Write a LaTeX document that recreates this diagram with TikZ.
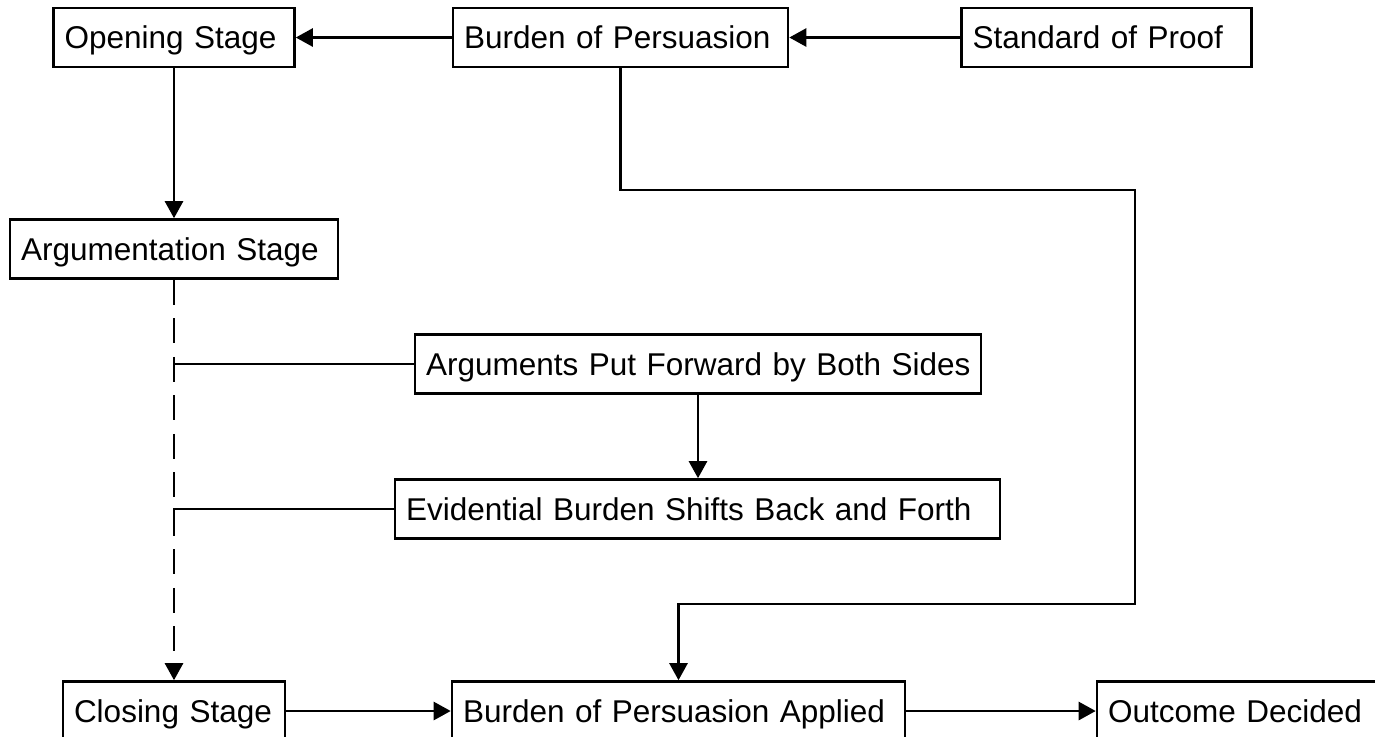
\documentclass[tikz,border=0pt]{standalone}
\usepackage{fontspec}
\setmainfont{Liberation Sans}
\usetikzlibrary{arrows.meta}
\begin{document}
\begin{tikzpicture}[x=0.5pt,y=-0.5pt,
  box/.style={draw, line width=1.3pt, rectangle, inner xsep=5.5pt, inner ysep=0pt,
    minimum height=29.5pt, align=left, font=\fontsize{15.75}{19}\selectfont,
    text height=11.3pt, text depth=0pt},
  link/.style={line width=1.3pt},
  arr/.style={link, -{Triangle[length=8.5pt,width=9pt]}},
  ]
\clip (0,0) rectangle (1375,736);

% top row
\node[box, text width=109.5pt] (open) at (174,37.5) {\mbox{Opening Stage}};
\node[box, text width=156.5pt] (bop)  at (620.5,37.5) {\mbox{Burden of Persuasion}};
\node[box, text width=134pt]   (sop)  at (1106.5,37.5) {\mbox{Standard of Proof}};

% argumentation column
\node[box, text width=153pt]   (arg)  at (174,249) {\mbox{Argumentation Stage}};
\node[box, text width=272pt]   (apf)  at (698,364) {\mbox{Arguments Put Forward by Both Sides}};
\node[box, text width=291.5pt] (ev)   at (697.5,509) {\mbox{Evidential Burden Shifts Back and Forth}};

% bottom row
\node[box, text width=100pt]   (close) at (174,711) {\mbox{Closing Stage}};
\node[box, text width=215.5pt] (bpa)   at (678.5,711) {\mbox{Burden of Persuasion Applied}};
\node[box, text width=131.5pt] (out)   at (1239.5,711) {\mbox{Outcome Decided}};

% helper points for the routed connectors
\coordinate (r1) at (1135,190);
\coordinate (r2) at (1135,604);
\coordinate (tapA) at (arg.south |- apf.west);
\coordinate (tapB) at (174,533);

% connectors
\draw[arr] (sop.west) -- (bop.east);
\draw[arr] (bop.west) -- (open.east);
\draw[arr] (open.south) -- (arg.north);
\draw[arr] (bop.south) |- (r1) -- (r2) -| (bpa.north);
\draw[arr, dash pattern=on 12.5pt off 6.75pt] (arg.south) -- (close.north);
\draw[link] (apf.west) -- (tapA);
\draw[arr] (apf.south) -- (ev.north -| apf.south);
\draw[link] (ev.west) -| (tapB);
\draw[arr] (close.east) -- (bpa.west);
\draw[arr] (bpa.east) -- (out.west);
\end{tikzpicture}
\end{document}
